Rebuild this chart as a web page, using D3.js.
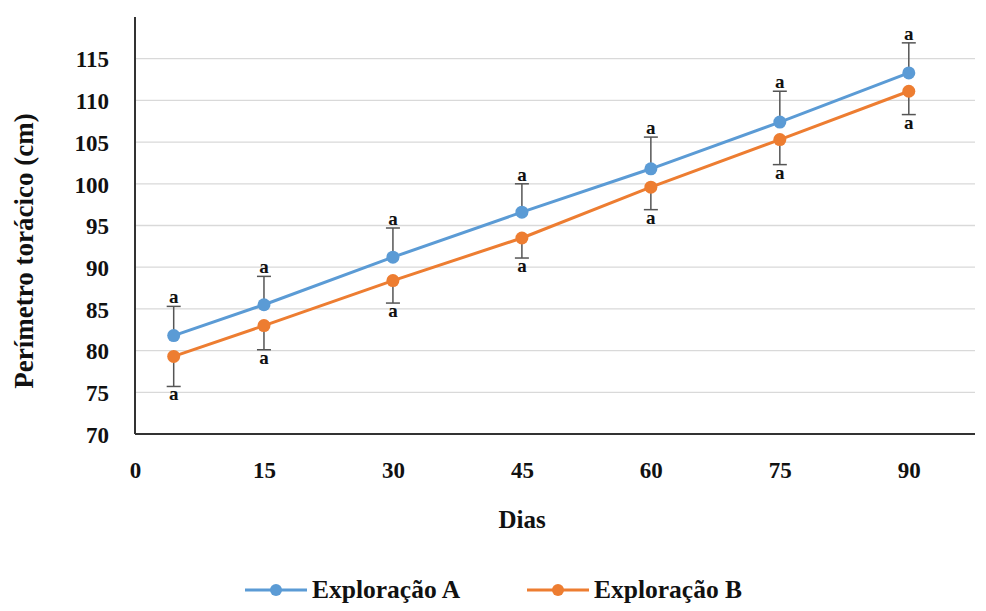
<!DOCTYPE html>
<html>
<head>
<meta charset="utf-8">
<script src="https://cdn.jsdelivr.net/npm/d3@7"></script>
<style>
  html, body { margin: 0; padding: 0; background: #fff; }
  svg { display: block; }
  svg text { font-family: "Liberation Serif" !important; font-weight: bold; }
</style>
</head>
<body>
<svg id="chart" width="986" height="611" font-family="Liberation Serif"></svg>
<script>
// Dias de medição (a primeira medição fica pouco depois do dia 0)
const days = [4.5, 15, 30, 45, 60, 75, 90];
const xTicks = [0, 15, 30, 45, 60, 75, 90];
const yTicks = [70, 75, 80, 85, 90, 95, 100, 105, 110, 115];

// Perímetro torácico médio (cm) e desvio por exploração
const seriesA = [81.8, 85.5, 91.2, 96.6, 101.8, 107.4, 113.3];
const errA    = [3.5, 3.4, 3.5, 3.4, 3.8, 3.7, 3.6];
const seriesB = [79.3, 83.0, 88.4, 93.5, 99.6, 105.3, 111.1];
const errB    = [3.6, 2.9, 2.7, 2.4, 2.7, 3.0, 2.8];
const letters = ["a", "a", "a", "a", "a", "a", "a"];

const seriesNames = ["Exploração A", "Exploração B"];
const colors = ["#5B9BD5", "#ED7D31"];

const serifText = sel => sel
  .attr("font-family", "Liberation Serif")
  .style("font-family", '"Liberation Serif"')
  .attr("font-weight", "bold")
  .attr("fill", "#111");

const svg = d3.select("#chart");
const margin = { left: 135, right: 11, top: 17, bottom: 177 };
const W = 986, H = 611;

const x = d3.scaleLinear().domain([0, 97.7]).range([margin.left, W - margin.right]);
const y = d3.scaleLinear().domain([70, 120]).range([H - margin.bottom, margin.top]);

// grelha horizontal
svg.append("g")
  .selectAll("line")
  .data(yTicks.filter(d => d > 70))
  .join("line")
  .attr("x1", x(0)).attr("x2", x(97.7))
  .attr("y1", d => y(d)).attr("y2", d => y(d))
  .attr("stroke", "#d9d9d9").attr("stroke-width", 1.3);

// eixos
const yAxis = svg.append("g")
  .attr("transform", `translate(${x(0)},0)`)
  .call(d3.axisLeft(y).tickValues(yTicks).tickSize(0).tickPadding(26));
yAxis.select(".domain").remove();
yAxis.attr("font-family", "Liberation Serif").attr("font-size", null);
yAxis.selectAll("text").attr("font-size", 23).attr("dy", "0.36em").call(serifText);

const xAxis = svg.append("g")
  .attr("transform", `translate(0,${y(70)})`)
  .call(d3.axisBottom(x).tickValues(xTicks).tickSize(0).tickPadding(28));
xAxis.select(".domain").remove();
xAxis.attr("font-family", "Liberation Serif").attr("font-size", null);
xAxis.selectAll("text").attr("font-size", 23).call(serifText);

svg.append("line")
  .attr("x1", x(0)).attr("x2", x(0)).attr("y1", y(120)).attr("y2", y(70))
  .attr("stroke", "#333").attr("stroke-width", 2);
svg.append("line")
  .attr("x1", x(0)).attr("x2", x(97.7)).attr("y1", y(70)).attr("y2", y(70))
  .attr("stroke", "#333").attr("stroke-width", 2);

// títulos dos eixos
svg.append("text")
  .attr("transform", `translate(33,251) rotate(-90)`)
  .attr("text-anchor", "middle").attr("font-size", 27)
  .call(serifText)
  .text("Perímetro torácico (cm)");
svg.append("text")
  .attr("x", 522).attr("y", 528)
  .attr("text-anchor", "middle").attr("font-size", 25)
  .call(serifText)
  .text("Dias");

const series = [
  { name: seriesNames[0], vals: seriesA, err: errA, dir: 1, color: colors[0] },
  { name: seriesNames[1], vals: seriesB, err: errB, dir: -1, color: colors[1] }
];

const line = d3.line().x((d, i) => x(days[i])).y(d => y(d));

series.forEach(s => {
  const g = svg.append("g");
  // barras de erro (A para cima, B para baixo)
  const ends = s.vals.map((v, i) => v + s.dir * s.err[i]);
  g.selectAll(".eb").data(s.vals).join("line")
    .attr("x1", (d, i) => x(days[i])).attr("x2", (d, i) => x(days[i]))
    .attr("y1", d => y(d)).attr("y2", (d, i) => y(ends[i]))
    .attr("stroke", "#555").attr("stroke-width", 1.5);
  g.selectAll(".cap").data(ends).join("line")
    .attr("x1", (d, i) => x(days[i]) - 7).attr("x2", (d, i) => x(days[i]) + 7)
    .attr("y1", d => y(d)).attr("y2", d => y(d))
    .attr("stroke", "#555").attr("stroke-width", 1.5);
  // letras de significância
  g.selectAll(".lt").data(ends).join("text")
    .attr("x", (d, i) => x(days[i]))
    .attr("y", d => s.dir > 0 ? y(d) - 3 : y(d) + 14)
    .attr("text-anchor", "middle").attr("font-size", 19)
    .call(serifText)
    .text((d, i) => letters[i]);
});

series.forEach(s => {
  svg.append("path").datum(s.vals)
    .attr("d", line).attr("fill", "none")
    .attr("stroke", s.color).attr("stroke-width", 3);
  svg.append("g").selectAll("circle").data(s.vals).join("circle")
    .attr("cx", (d, i) => x(days[i])).attr("cy", d => y(d))
    .attr("r", 6.5).attr("fill", s.color);
});

// legenda
const legendX = [245, 527];
series.forEach((s, k) => {
  const lg = svg.append("g").attr("transform", `translate(${legendX[k]},590)`);
  lg.append("line").attr("x1", 0).attr("x2", 62).attr("y1", 0).attr("y2", 0)
    .attr("stroke", s.color).attr("stroke-width", 3);
  lg.append("circle").attr("cx", 31).attr("cy", 0).attr("r", 6).attr("fill", s.color);
  lg.append("text").attr("x", 67).attr("y", 8).attr("font-size", 25.5)
    .call(serifText).text(s.name);
});
</script>
</body>
</html>
